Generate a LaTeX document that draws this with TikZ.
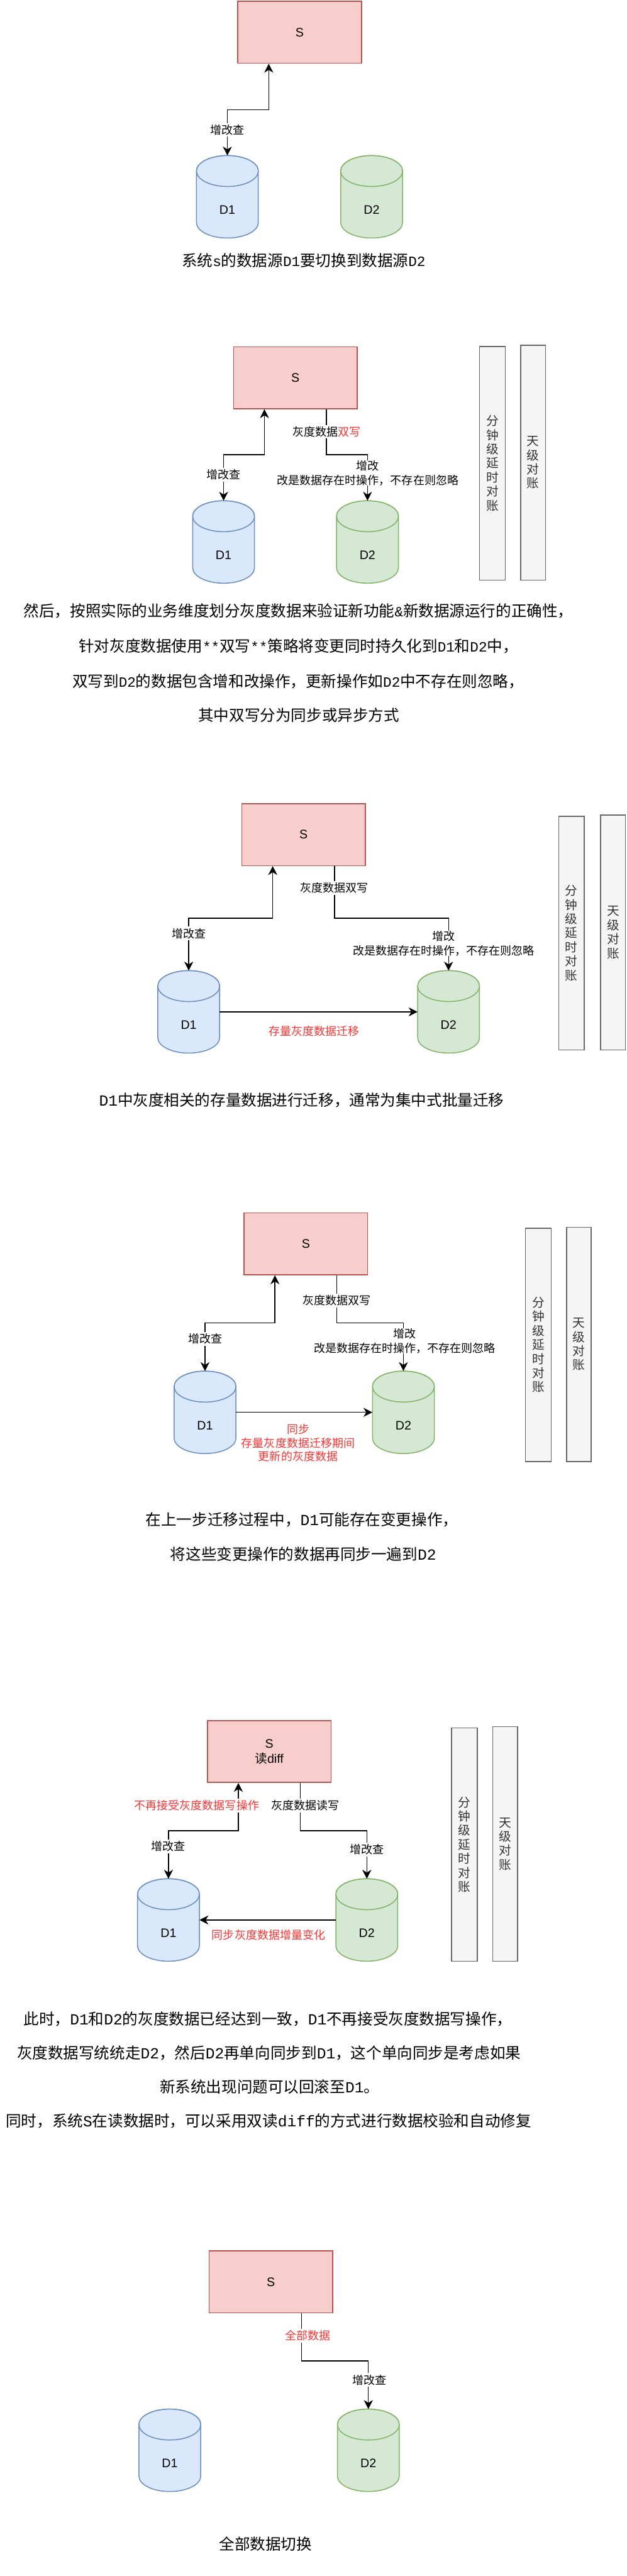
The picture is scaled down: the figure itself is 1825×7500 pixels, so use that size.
\documentclass[tikz,border=0pt]{standalone}
\usepackage{fontspec}
\setmainfont{Liberation Sans}
\newfontfamily\cjk{Noto Sans CJK SC}
\newfontfamily\msm[Scale=0.92]{Liberation Mono}
\newfontfamily\mtl{Liberation Mono}
\usetikzlibrary{arrows.meta}
\definecolor{sfill}{HTML}{F8CECC}\definecolor{sline}{HTML}{B85450}
\definecolor{bfill}{HTML}{DAE8FC}\definecolor{bline}{HTML}{6C8EBF}
\definecolor{gfill}{HTML}{D5E8D4}\definecolor{gline}{HTML}{82B366}
\definecolor{hfill}{HTML}{F5F5F5}\definecolor{hline}{HTML}{666666}\definecolor{htext}{HTML}{333333}
\definecolor{redt}{HTML}{FF3333}
\tikzset{
  sbox/.style={draw=sline,fill=sfill,line width=2.8pt,minimum width=360pt,minimum height=180pt,inner sep=0pt,align=center,font=\fontsize{36}{44}\selectfont},
  bluecyl/.style={draw=bline,fill=bfill,line width=2.8pt},
  greencyl/.style={draw=gline,fill=gfill,line width=2.8pt},
  cylanchor/.style={minimum width=180pt,minimum height=240pt,inner sep=0pt},
  cyltext/.style={inner sep=0pt,font=\fontsize{36}{44}\selectfont},
  barbox/.style={draw=hline,fill=hfill,text=htext,line width=2.8pt,inner sep=0pt,align=center,font=\fontsize{36}{41}\selectfont\cjk},
  lab/.style={fill=white,inner xsep=1pt,inner ysep=0pt,minimum height=40pt,align=center,font=\fontsize{33}{42}\selectfont\cjk},
  captext/.style={inner sep=0pt,font=\fontsize{45}{54}\selectfont\cjk},
  conn/.style={line width=2.6pt,-{Stealth[length=26pt,width=26pt,inset=8pt]}},
  biconn/.style={line width=2.6pt,{Stealth[length=26pt,width=26pt,inset=8pt]}-{Stealth[length=26pt,width=26pt,inset=8pt]}}
}
\newcommand{\cyl}[5]{%
  \draw[#4] (#2-90,#3+45) -- (#2-90,#3+195) arc[start angle=180,end angle=0,x radius=90,y radius=45] -- (#2+90,#3+45) arc[start angle=0,end angle=-180,x radius=90,y radius=45] -- cycle;
  \draw[#4] (#2,#3+45) ellipse [x radius=90,y radius=45];
  \node[cylanchor] (#1) at (#2,#3+120) {};
  \node[cyltext] (#1t) at ([yshift=-38pt]#1.center) {#5};
}
\newcommand{\elbow}[4]{\draw[#1] (#2) -- (#2 |- 0,#4) -- (#3 |- 0,#4) -- (#3);}
\newcommand{\sattach}[1]{\coordinate (#1l) at ([xshift=-90pt]#1.south);\coordinate (#1r) at ([xshift=90pt]#1.south);}
\newcommand{\vtxtA}{分\\钟\\级\\延\\时\\对\\账}
\newcommand{\vtxtB}{天\\级\\对\\账}
\begin{document}
\begin{tikzpicture}[x=1pt,y=-1pt]
\useasboundingbox (0,0) rectangle (1825,7500);
\fill[white] (0,0) rectangle (1825,7500);

% ---------- 1
\node[sbox] (s1) at (872.5,94) {S};
\sattach{s1}
\cyl{d11}{662}{453}{bluecyl}{D1}
\cyl{d12}{1082}{453}{greencyl}{D2}
\elbow{biconn}{d11.north}{s1l}{319}
\node[lab] (l11) at (662,378) {增改查};
\node[captext] (c11) at (884,758) {系统{\msm s}的数据源{\msm D1}要切换到数据源{\msm D2}};

% ---------- 2
\node[sbox] (s2) at (860,1100) {S};
\sattach{s2}
\cyl{d21}{651}{1458}{bluecyl}{D1}
\cyl{d22}{1070}{1458}{greencyl}{D2}
\elbow{biconn}{d21.north}{s2l}{1324}
\elbow{conn}{s2r}{d22.north}{1324}
\node[lab] (l21) at (651,1382) {增改查};
\node[lab] (l22) at (951,1257) {灰度数据\textcolor{redt}{双写}};
\node[lab] (l23) at (1071,1377) {增改\\改是数据存在时操作，不存在则忽略};
\node[barbox,minimum width=75pt,minimum height=680pt] (b21) at (1433.5,1349) {\vtxtA};
\node[barbox,minimum width=72pt,minimum height=684pt] (b22) at (1552,1347) {\vtxtB};
\node[captext] (c21) at (869,1779) {然后，按照实际的业务维度划分灰度数据来验证新功能{\msm\&}新数据源运行的正确性，};
\node[captext] (c22) at (869,1881) {针对灰度数据使用{\msm **}双写{\msm **}策略将变更同时持久化到{\msm D1}和{\msm D2}中，};
\node[captext] (c23) at (868,1983) {双写到{\msm D2}的数据包含增和改操作，更新操作如{\msm D2}中不存在则忽略，};
\node[captext] (c24) at (870,2083) {其中双写分为同步或异步方式};

% ---------- 3
\node[sbox] (s3) at (884,2430) {S};
\sattach{s3}
\cyl{d31}{549.5}{2826}{bluecyl}{D1}
\cyl{d32}{1306}{2826}{greencyl}{D2}
\elbow{biconn}{d31.north}{s3l}{2673}
\elbow{conn}{s3r}{d32.north}{2673}
\draw[conn] (d31.east |- 0,2946) -- (d32.west |- 0,2946);
\node[lab] (l31) at (549.5,2718) {增改查};
\node[lab] (l32) at (973,2585) {灰度数据双写};
\node[lab] (l33) at (1292,2747) {增改\\改是数据存在时操作，不存在则忽略};
\node[lab,text=redt] (l34) at (914,3002) {存量灰度数据迁移};
\node[barbox,minimum width=75pt,minimum height=680pt] (b31) at (1664,2716.5) {\vtxtA};
\node[barbox,minimum width=72pt,minimum height=684pt] (b32) at (1785,2715) {\vtxtB};
\node[captext] (c31) at (878,3203) {{\mtl D1}中灰度相关的存量数据进行迁移，通常为集中式批量迁移};

% ---------- 4
\node[sbox] (s4) at (890.5,3621.5) {S};
\sattach{s4}
\cyl{d41}{597}{3992}{bluecyl}{D1}
\cyl{d42}{1174.5}{3992}{greencyl}{D2}
\elbow{biconn}{d41.north}{s4l}{3852}
\elbow{conn}{s4r}{d42.north}{3852}
\draw[conn] (d41.east |- 0,4112) -- (d42.west |- 0,4112);
\node[lab] (l41) at (597,3898) {增改查};
\node[lab] (l42) at (980,3786) {灰度数据双写};
\node[lab] (l43) at (1178,3904) {增改\\改是数据存在时操作，不存在则忽略};
\node[lab,text=redt,font=\fontsize{33}{39}\selectfont\cjk] (l44) at (868,4201) {同步\\存量灰度数据迁移期间\\更新的灰度数据};
\node[barbox,minimum width=75pt,minimum height=679pt] (b41) at (1567.5,3915.5) {\vtxtA};
\node[barbox,minimum width=72pt,minimum height=682pt] (b42) at (1685.5,3914) {\vtxtB};
\node[captext] (c41) at (879,4424) {在上一步迁移过程中，{\mtl D1}可能存在变更操作，};
\node[captext] (c42) at (883,4524) {将这些变更操作的数据再同步一遍到{\mtl D2}};

% ---------- 5
\node[sbox] (s5) at (784,5099.5) {S\\{\cjk 读}diff};
\sattach{s5}
\cyl{d51}{490.5}{5470}{bluecyl}{D1}
\cyl{d52}{1068}{5470}{greencyl}{D2}
\elbow{biconn}{d51.north}{s5l}{5330}
\elbow{conn}{s5r}{d52.north}{5330}
\draw[conn] (d52.west |- 0,5590) -- (d51.east |- 0,5590);
\node[lab] (l51) at (490,5376) {增改查};
\node[lab] (l52) at (1069,5385) {增改查};
\node[lab] (l53) at (889,5257) {灰度数据读写};
\node[lab,text=redt] (l54) at (573,5257) {不再接受灰度数据写操作};
\node[lab,text=redt] (l55) at (782,5634) {同步灰度数据增量变化};
\node[barbox,minimum width=75pt,minimum height=679pt] (b51) at (1352.5,5370.5) {\vtxtA};
\node[barbox,minimum width=72pt,minimum height=683pt] (b52) at (1470.5,5368.5) {\vtxtB};
\node[captext] (c51) at (780,5879) {此时，{\mtl D1}和{\mtl D2}的灰度数据已经达到一致，{\mtl D1}不再接受灰度数据写操作，};
\node[captext] (c52) at (783,5977) {灰度数据写统统走{\mtl D2}，然后{\mtl D2}再单向同步到{\mtl D1}，这个单向同步是考虑如果};
\node[captext] (c53) at (785,6075) {新系统出现问题可以回滚至{\mtl D1}。};
\node[captext] (c54) at (782,6175) {同时，系统{\mtl S}在读数据时，可以采用双读{\mtl diff}的方式进行数据校验和自动修复};

% ---------- 6
\node[sbox] (s6) at (788.5,6643.5) {S};
\sattach{s6}
\cyl{d61}{494.5}{7014}{bluecyl}{D1}
\cyl{d62}{1072.5}{7014}{greencyl}{D2}
\elbow{conn}{s6r}{d62.north}{6874}
\node[lab,text=redt] (l61) at (896,6800) {全部数据};
\node[lab] (l62) at (1075,6929) {增改查};
\node[captext] (c61) at (773,7407) {全部数据切换};
\end{tikzpicture}
\end{document}
